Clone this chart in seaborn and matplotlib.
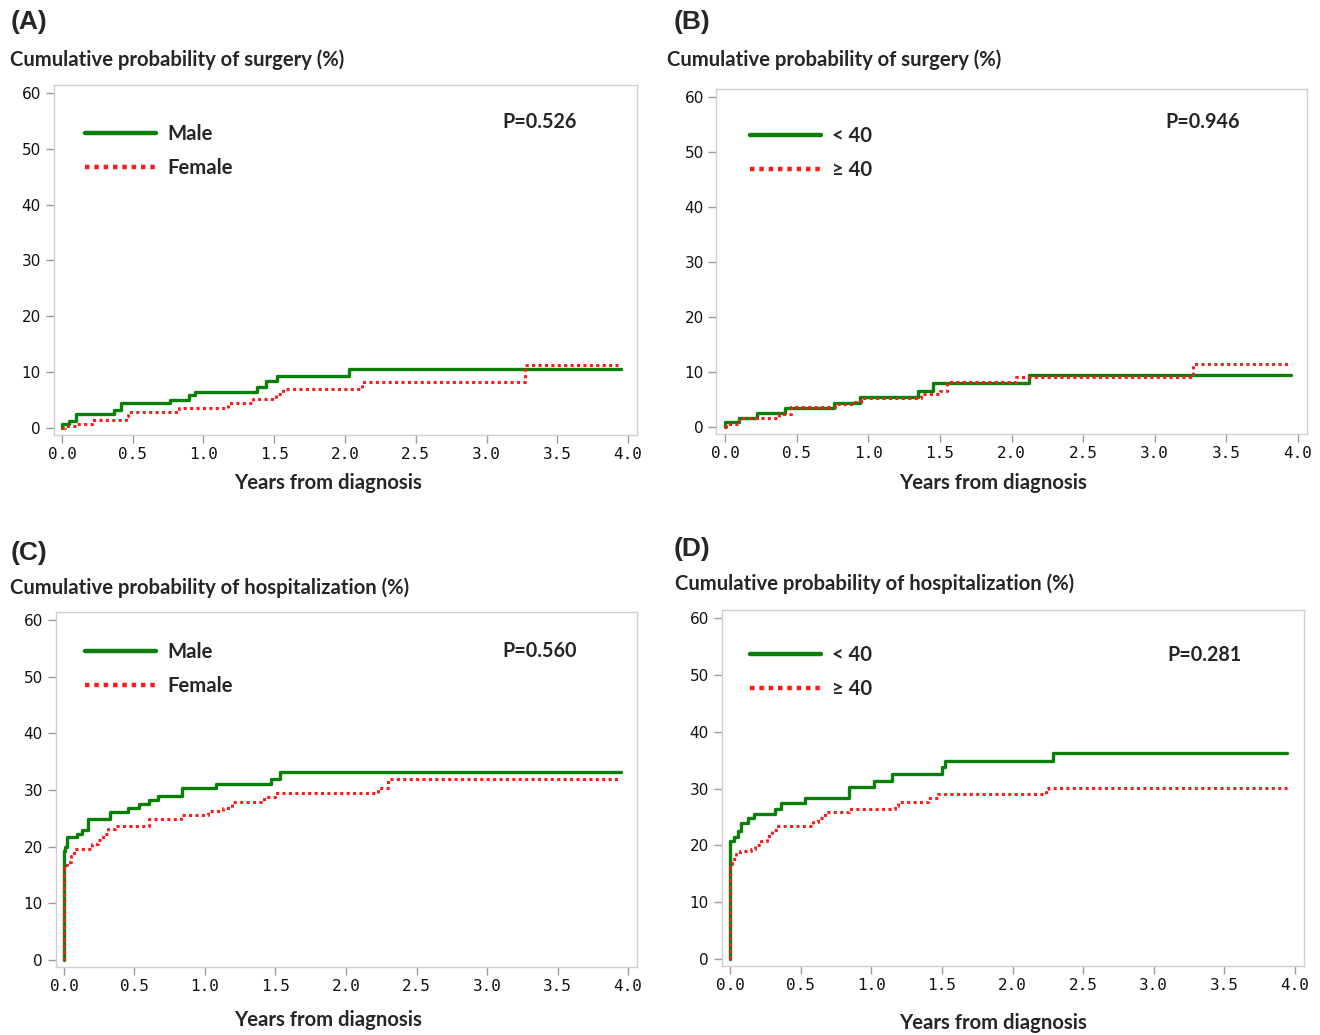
import matplotlib
matplotlib.use("Agg")
import matplotlib.pyplot as plt
import seaborn as sns
import pandas as pd

sns.set_style("ticks")
plt.rcParams['font.family'] = ['Lato', 'DejaVu Sans']

# ---------------- data ----------------
xticks = [0.0, 0.5, 1.0, 1.5, 2.0, 2.5, 3.0, 3.5, 4.0]
xticklabels = ["0.0", "0.5", "1.0", "1.5", "2.0", "2.5", "3.0", "3.5", "4.0"]
yticks = [0, 10, 20, 30, 40, 50, 60]

# (A) surgery by sex
A_male_t = [0, 0, 0.05, 0.10, 0.37, 0.42, 0.76, 0.90, 0.94, 1.375, 1.44, 1.52, 2.03, 3.95]
A_male_v = [0, 0.7, 1.3, 2.5, 3.2, 4.5, 5.1, 5.9, 6.5, 7.4, 8.5, 9.4, 10.5, 10.5]
A_female_t = [0, 0.02, 0.10, 0.21, 0.45, 0.47, 0.83, 1.17, 1.35, 1.51, 1.56, 2.12, 3.27, 3.95]
A_female_v = [0, 0.4, 0.7, 1.5, 2.1, 2.9, 3.5, 4.4, 5.2, 6.1, 7.0, 8.2, 11.25, 11.25]

# (B) surgery by age
B_young_t = [0, 0, 0.095, 0.22, 0.42, 0.76, 0.94, 1.35, 1.45, 2.12, 3.95]
B_young_v = [0, 0.9, 1.7, 2.5, 3.4, 4.4, 5.4, 6.6, 7.95, 9.5, 9.5]
B_old_t = [0, 0.01, 0.095, 0.38, 0.46, 0.78, 0.91, 0.95, 1.37, 1.50, 1.55, 2.03, 3.27, 3.95]
B_old_v = [0, 0.5, 1.7, 2.3, 3.6, 4.2, 4.6, 5.3, 6.0, 6.6, 8.1, 9.1, 11.5, 11.5]

# (C) hospitalization by sex
C_male_t = [0, 0, 0.005, 0.02, 0.09, 0.125, 0.17, 0.33, 0.455, 0.53, 0.60, 0.67, 0.84, 1.08, 1.47, 1.53, 3.95]
C_male_v = [0, 19.3, 20.0, 21.75, 22.3, 23.0, 24.8, 26.2, 26.8, 27.5, 28.2, 28.9, 30.35, 31.1, 32.0, 33.1, 33.1]
C_female_t = [0, 0, 0.02, 0.05, 0.07, 0.20, 0.24, 0.28, 0.31, 0.36, 0.60, 0.83, 1.02, 1.13, 1.19, 1.42, 1.50, 2.23, 2.30, 3.95]
C_female_v = [0, 16.7, 17.3, 18.4, 19.6, 20.5, 21.1, 22.2, 23.1, 23.7, 24.9, 25.6, 26.3, 26.9, 27.8, 28.7, 29.5, 30.4, 31.9, 31.9]

# (D) hospitalization by age
D_young_t = [0, 0, 0.03, 0.06, 0.08, 0.13, 0.17, 0.32, 0.36, 0.53, 0.84, 1.02, 1.15, 1.50, 1.52, 2.29, 3.94]
D_young_v = [0, 20.8, 21.5, 22.6, 23.9, 24.8, 25.6, 26.4, 27.4, 28.25, 30.3, 31.35, 32.5, 33.7, 34.85, 36.3, 36.3]
D_old_t = [0, 0, 0.015, 0.04, 0.07, 0.15, 0.18, 0.22, 0.26, 0.30, 0.34, 0.59, 0.62, 0.67, 0.84, 1.17, 1.19, 1.40, 1.47, 2.24, 2.25, 3.94]
D_old_v = [0, 16.75, 17.6, 18.5, 19.0, 19.4, 20.1, 20.8, 21.7, 22.7, 23.35, 24.05, 24.8, 25.9, 26.4, 27.0, 27.7, 28.4, 29.1, 29.9, 30.1, 30.1]

panels = [
    dict(tag="(A)", title="Cumulative probability of surgery (%)", p="P=0.526",
         labels=["Male", "Female"], series=[(A_male_t, A_male_v), (A_female_t, A_female_v)]),
    dict(tag="(B)", title="Cumulative probability of surgery (%)", p="P=0.946",
         labels=["< 40", "\u2265 40"], series=[(B_young_t, B_young_v), (B_old_t, B_old_v)]),
    dict(tag="(C)", title="Cumulative probability of hospitalization (%)", p="P=0.560",
         labels=["Male", "Female"], series=[(C_male_t, C_male_v), (C_female_t, C_female_v)]),
    dict(tag="(D)", title="Cumulative probability of hospitalization (%)", p="P=0.281",
         labels=["< 40", "\u2265 40"], series=[(D_young_t, D_young_v), (D_old_t, D_old_v)]),
]

# ---------------- layout (pixels) ----------------
W, H = 1320, 1035
fig = plt.figure(figsize=(W / 100, H / 100), dpi=100)
fig.patch.set_facecolor("white")

def fx(px):
    return px / W

def fy(py):
    return 1 - py / H

# axes frame boxes: left, top, right, bottom in pixels
boxes = [(53.5, 84.6, 636.5, 434.7), (716.4, 88.8, 1306.6, 433.6),
         (55.5, 611.5, 636.5, 966.8), (721.5, 609.5, 1303.5, 965.8)]
tag_pos = [(11, 22), (674, 22), (11, 553), (674, 549)]
title_pos = [(10, 60), (667, 60), (10, 588), (675, 584)]
xlabel_pos = [(328, 483), (993, 483), (328, 1020), (993, 1023)]
p_pos = [(502, 122), (1165, 122), (502, 651), (1167, 655)]
leg_pos = [(85, 124), (750, 126), (85, 642), (750, 645)]

GREEN = "#0a7f0a"
RED = "#ff1a1a"
SPINE = "#cfcfcf"
TICK = "#9a9a9a"
FS = 14.6

for i, pan in enumerate(panels):
    l, t, r, b = boxes[i]
    ax = fig.add_axes([fx(l), fy(b), (r - l) / W, (b - t) / H])
    (t1, v1), (t2, v2) = pan["series"]
    d1 = pd.DataFrame({"t": t1, "v": v1})
    d2 = pd.DataFrame({"t": t2, "v": v2})
    sns.lineplot(data=d1, x="t", y="v", ax=ax, estimator=None, sort=False,
                 drawstyle="steps-post", color=GREEN, lw=2.4, label=pan["labels"][0])
    sns.lineplot(data=d2, x="t", y="v", ax=ax, estimator=None, sort=False,
                 drawstyle="steps-post", color=RED, lw=2.2, linestyle=(0, (1, 1.1)),
                 label=pan["labels"][1])
    ax.set_xlim(-0.06, 4.06)
    ax.set_ylim(-1.2, 61.5)
    ax.set_xticks(xticks)
    ax.set_xticklabels(xticklabels, family="DejaVu Sans Mono", fontsize=11.5)
    ax.set_yticks(yticks)
    ax.set_yticklabels([str(v) for v in yticks], family="DejaVu Sans", fontsize=11)
    ax.tick_params(axis="both", direction="out", length=6, width=1, color=TICK,
                   labelcolor="#111111", pad=3)
    ax.set_xlabel("")
    ax.set_ylabel("")
    for s in ax.spines.values():
        s.set_visible(True)
        s.set_color(SPINE)
        s.set_linewidth(1.0)
    ax.grid(False)

    lx, ly = leg_pos[i]
    leg = ax.legend(loc="upper left", bbox_to_anchor=(fx(lx), fy(ly)),
                    bbox_transform=fig.transFigure, frameon=False, borderpad=0,
                    borderaxespad=0, handlelength=3.5, handletextpad=0.55,
                    labelspacing=0.7, prop=dict(family="Lato", weight="bold", size=FS))
    for h in leg.get_lines():
        h.set_linewidth(3.2)

    tx, ty = tag_pos[i]
    fig.text(fx(tx), fy(ty), pan["tag"], family="Liberation Sans", weight="bold",
             fontsize=19, ha="left", va="center")
    tx, ty = title_pos[i]
    fig.text(fx(tx), fy(ty), pan["title"], weight="bold", fontsize=FS,
             ha="left", va="center")
    tx, ty = xlabel_pos[i]
    fig.text(fx(tx), fy(ty), "Years from diagnosis", weight="bold", fontsize=FS,
             ha="center", va="center")
    tx, ty = p_pos[i]
    fig.text(fx(tx), fy(ty), pan["p"], weight="bold", fontsize=FS - 0.4,
             ha="left", va="center")

fig.savefig("out.png", dpi=100, facecolor="white")
